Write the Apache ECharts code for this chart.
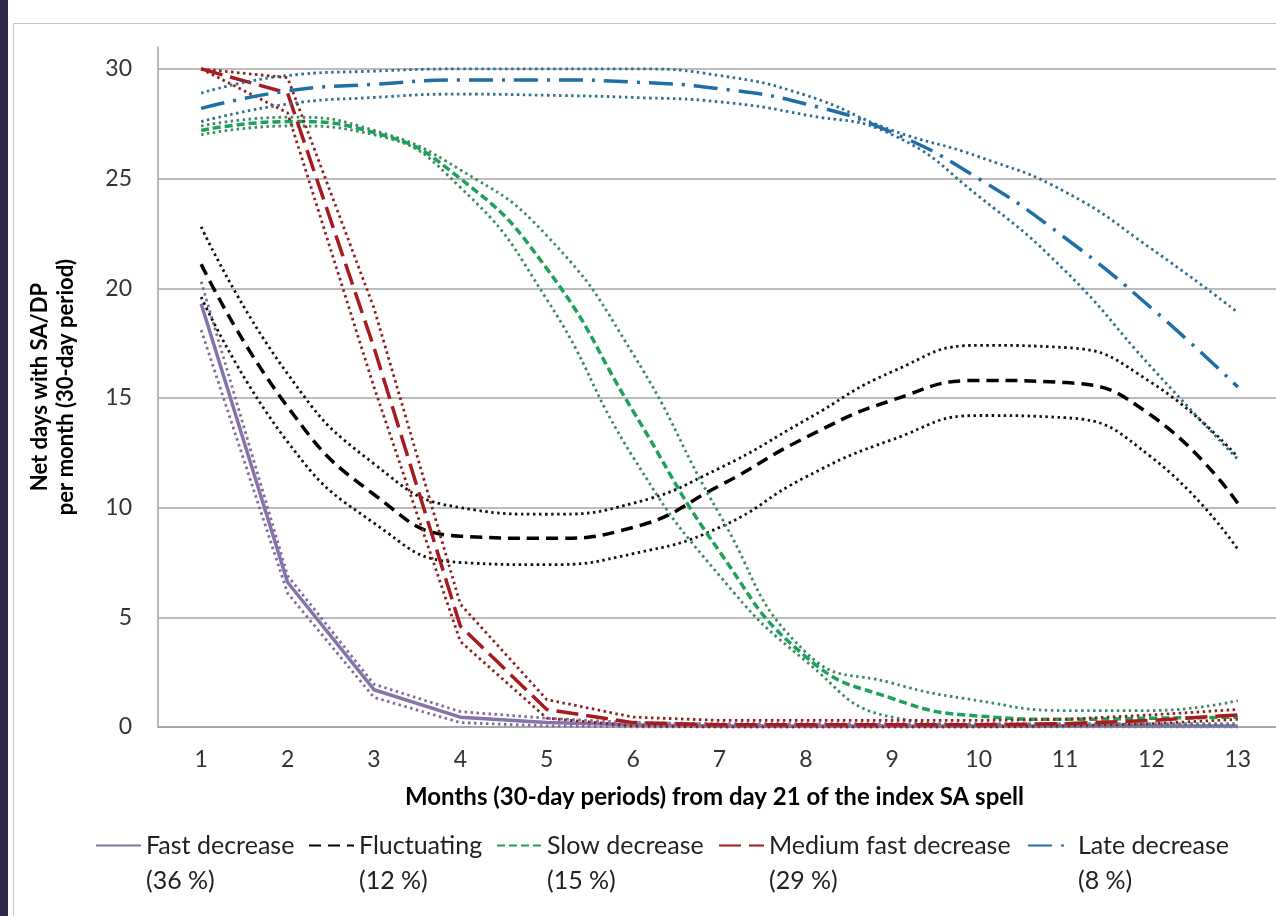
<!DOCTYPE html>
<html>
<head>
<meta charset="utf-8">
<script src="https://cdn.jsdelivr.net/npm/echarts@6/dist/echarts.min.js"></script>
<style>
    body { margin: 0; background: #fff; }
    #wrap { position: relative; width: 1276px; height: 916px; overflow: hidden; }
    #strip { position: absolute; left: 0; top: 0; width: 8px; height: 916px; background: #2c2a4c; }
    #frame { position: absolute; left: 13px; top: 23px; width: 1400px; height: 1000px; border: 1px solid #c6c6c6; }
    #chart { position: absolute; left: 0; top: 0; width: 1276px; height: 916px; }
</style>
</head>
<body>
<div id="wrap">
    <div id="strip"></div>
    <div id="frame"></div>
    <div id="chart"></div>
</div>
<script>
const months = ['1', '2', '3', '4', '5', '6', '7', '8', '9', '10', '11', '12', '13'];

const groupNames = ['Fast decrease', 'Fluctuating', 'Slow decrease', 'Medium fast decrease', 'Late decrease'];
const groupShares = ['36 %', '12 %', '15 %', '29 %', '8 %'];

// estimated trajectories with upper / lower bands
const fastMain  = [19.3, 6.6, 1.7, 0.45, 0.2, 0.1, 0.05, 0.05, 0.05, 0.05, 0.05, 0.05, 0.05];
const fastUpper = [20.3, 6.9, 1.95, 0.7, 0.4, 0.2, 0.15, 0.15, 0.15, 0.15, 0.15, 0.15, 0.15];
const fastLower = [18.1, 6.1, 1.35, 0.2, 0.05, 0, 0, 0, 0, 0, 0, 0, 0];

const flucMain  = [21.1, 14.6, 10.6, 8.7, 8.6, 9.1, 11.0, 13.2, 14.9, 15.8, 15.7, 14.2, 10.2];
const flucUpper = [22.8, 16.1, 12.0, 10.0, 9.7, 10.2, 11.8, 14.0, 16.2, 17.4, 17.3, 15.7, 12.3];
const flucLower = [19.6, 13.0, 9.3, 7.5, 7.4, 7.9, 9.1, 11.4, 13.1, 14.2, 14.1, 12.3, 8.1];

const slowMain  = [27.2, 27.6, 27.1, 25.0, 20.9, 14.4, 8.0, 3.2, 1.3, 0.5, 0.35, 0.4, 0.45];
const slowUpper = [27.4, 27.8, 27.2, 25.4, 22.4, 17.0, 9.7, 3.4, 2.0, 1.2, 0.75, 0.75, 1.2];
const slowLower = [27.0, 27.4, 27.0, 24.6, 19.5, 12.3, 6.9, 3.0, 0.45, 0.1, 0.1, 0.1, 0.1];

const medMain  = [30.0, 28.9, 17.3, 4.6, 0.8, 0.2, 0.1, 0.1, 0.1, 0.1, 0.15, 0.3, 0.55];
const medUpper = [30.0, 29.6, 19.1, 5.6, 1.25, 0.45, 0.3, 0.3, 0.3, 0.3, 0.35, 0.55, 0.8];
const medLower = [30.0, 28.0, 15.5, 3.9, 0.4, 0.05, 0, 0, 0, 0, 0.05, 0.15, 0.35];

const lateMain  = [28.2, 29.0, 29.3, 29.5, 29.5, 29.4, 29.1, 28.4, 27.1, 25.0, 22.3, 19.1, 15.5];
const lateUpper = [28.9, 29.7, 29.9, 30.0, 30.0, 30.0, 29.7, 28.8, 27.2, 26.0, 24.4, 21.8, 18.9];
const lateLower = [27.6, 28.4, 28.7, 28.85, 28.8, 28.7, 28.5, 27.9, 27.0, 24.2, 20.8, 16.4, 12.2];

const FONT = 'Lato, "Open Sans", sans-serif';
const DOT = [2.5, 3.5];

const line = (name, data, color, type, width, smooth) => ({
    name: name,
    type: 'line',
    data: data,
    symbol: 'none',
    smooth: smooth,
    silent: true,
    lineStyle: { color: color, type: type, width: width },
    itemStyle: { color: color }
});

const series = [
    line('fast upper', fastUpper, '#7b6d9c', DOT, 2.8, false),
    line('fast lower', fastLower, '#7b6d9c', DOT, 2.8, false),
    line(groupNames[0], fastMain, '#8673aa', 'solid', 3.5, false),

    line('fluc upper', flucUpper, '#111', DOT, 2.8, true),
    line('fluc lower', flucLower, '#111', DOT, 2.8, true),
    line(groupNames[1], flucMain, '#000', [12, 7], 3.5, true),

    line('slow upper', slowUpper, '#3b8a62', DOT, 2.8, true),
    line('slow lower', slowLower, '#3b8a62', DOT, 2.8, true),
    line(groupNames[2], slowMain, '#1ea25a', [8, 4], 3.5, true),

    line('med upper', medUpper, '#8c2020', DOT, 2.8, false),
    line('med lower', medLower, '#8c2020', DOT, 2.8, false),
    line(groupNames[3], medMain, '#a81a1e', [22, 8], 3.5, false),

    line('late upper', lateUpper, '#2f6e8f', DOT, 2.8, true),
    line('late lower', lateLower, '#2f6e8f', DOT, 2.8, true),
    line(groupNames[4], lateMain, '#1f6ea6', [24, 9, 3, 9], 3.5, true)
];

const legendLeft = [90, 303, 491, 713, 1022];
const legends = groupNames.map((name, i) => ({
    data: [name],
    left: legendLeft[i],
    top: 788,
    itemWidth: 45,
    itemHeight: 12,
    selectedMode: false,
    itemStyle: { opacity: 0 },
    formatter: (n) => '\n' + n + '\n(' + groupShares[i] + ')',
    textStyle: { fontFamily: FONT, fontSize: 25, color: '#222', lineHeight: 35 }
}));

const myChart = echarts.init(document.getElementById('chart'));
const option = {
    animation: false,
    backgroundColor: 'transparent',
    grid: { left: 158, right: -5, top: 47, bottom: 189, outerBoundsMode: 'none' },
    legend: legends,
    xAxis: {
        type: 'category',
        data: months,
        boundaryGap: true,
        name: 'Months (30-day periods) from day 21 of the index SA spell',
        nameLocation: 'middle',
        nameGap: 58,
        nameTextStyle: { fontFamily: FONT, fontSize: 24, fontWeight: 'bold', color: '#000', padding: [0, 10, 0, 0] },
        axisLine: { lineStyle: { color: '#a0a0a0', width: 1.5 } },
        axisTick: { show: false },
        axisLabel: { fontFamily: FONT, fontSize: 23, color: '#333', margin: 21 }
    },
    yAxis: {
        type: 'value',
        min: 0,
        max: 31,
        interval: 5,
        name: 'Net days with SA/DP\nper month (30-day period)',
        nameLocation: 'middle',
        nameGap: 79,
        nameTextStyle: { fontFamily: FONT, fontSize: 22, fontWeight: 'bold', color: '#000', lineHeight: 26 },
        axisLine: { show: true, lineStyle: { color: '#a0a0a0', width: 1.5 } },
        axisTick: { show: false },
        axisLabel: { fontFamily: FONT, fontSize: 23, color: '#333', margin: 26, showMaxLabel: false },
        splitLine: { show: true, showMaxLine: false, lineStyle: { color: '#a6a6a6', width: 1.5 } }
    },
    series: series
};
myChart.setOption(option);
</script>
</body>
</html>
